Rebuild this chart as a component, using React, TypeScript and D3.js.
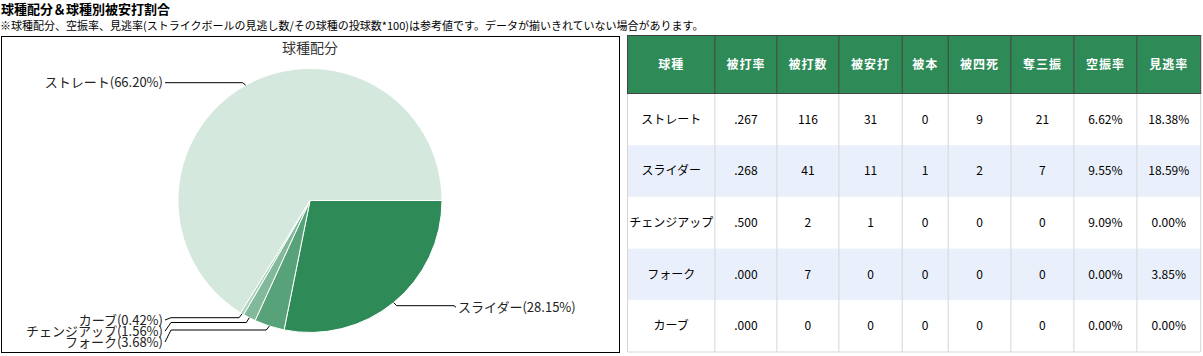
import React, { useEffect, useRef } from 'react';
import * as d3 from 'd3';

// pie data, clockwise from 3 o'clock
const PITCHES = ['スライダー', 'フォーク', 'チェンジアップ', 'カーブ', 'ストレート'];
const SHARES = [28.15, 3.68, 1.56, 0.42, 66.2];
const SLICE_COLORS = ['#2e8b57', '#58a279', '#82b99a', '#abd1bc', '#d5e8dd'];

// table
const HEADERS = ['球種', '被打率', '被打数', '被安打', '被本', '被四死', '奪三振', '空振率', '見逃率'];
const ROW_NAMES = ['ストレート', 'スライダー', 'チェンジアップ', 'フォーク', 'カーブ'];
const AVG = ['.267', '.268', '.500', '.000', '.000'];
const AT_BATS = [116, 41, 2, 7, 0];
const HITS = [31, 11, 1, 0, 0];
const HOMERS = [0, 1, 0, 0, 0];
const WALKS = [9, 2, 0, 0, 0];
const STRIKEOUTS = [21, 7, 0, 0, 0];
const WHIFF = ['6.62%', '9.55%', '9.09%', '0.00%', '0.00%'];
const LOOKING = ['18.38%', '18.59%', '0.00%', '3.85%', '0.00%'];

const COL_WIDTHS = [87.4, 62, 62, 63.3, 46, 62.7, 63, 63, 63.8];

// label placement (text y, connector y) after collision avoidance
const LABEL_LAYOUT: Record<string, [number, number]> = {
  'ストレート': [82.7, 82.7],
  'スライダー': [307.3, 305.7],
  'カーブ': [320, 317.7],
  'チェンジアップ': [331.2, 322.5],
  'フォーク': [342, 330],
};

const FONT = '"Noto Sans CJK JP", "Noto Sans", sans-serif';

const App = () => {
  const ref = useRef<SVGSVGElement>(null);

  useEffect(() => {
    if (!ref.current) return;
    const svg = d3.select(ref.current);
    svg.selectAll('*').remove();

    // headings
    svg.append('text')
      .attr('x', 1).attr('y', 14)
      .attr('font-family', FONT).attr('font-size', 13).attr('font-weight', 'bold')
      .attr('fill', '#000')
      .text('球種配分＆球種別被安打割合');
    svg.append('text')
      .attr('x', 0).attr('y', 30)
      .attr('font-family', FONT).attr('font-size', 11)
      .attr('fill', '#000')
      .text('※球種配分、空振率、見逃率(ストライクボールの見逃し数/その球種の投球数*100)は参考値です。データが揃いきれていない場合があります。');

    // pie panel
    svg.append('rect')
      .attr('x', 1.5).attr('y', 36.5).attr('width', 618).attr('height', 316)
      .attr('fill', '#fff').attr('stroke', '#000');

    svg.append('text')
      .attr('x', 310).attr('y', 53)
      .attr('text-anchor', 'middle')
      .attr('font-family', FONT).attr('font-size', 14).attr('fill', '#333')
      .text('球種配分');

    const cx = 310, cy = 200.5, r = 132;
    const data = PITCHES.map((name, i) => ({ name, value: SHARES[i], color: SLICE_COLORS[i] }));
    const pie = d3.pie<any>().sort(null).value(d => d.value)
      .startAngle(Math.PI / 2).endAngle(Math.PI / 2 + 2 * Math.PI);
    const arcs = pie(data);
    const arc = d3.arc<any>().innerRadius(0).outerRadius(r);

    const g = svg.append('g').attr('transform', `translate(${cx},${cy})`);
    g.selectAll('path.slice')
      .data(arcs)
      .enter()
      .append('path')
      .attr('class', 'slice')
      .attr('d', arc)
      .attr('fill', d => d.data.color)
      .attr('stroke', '#fff')
      .attr('stroke-width', 1);

    // labels + connectors
    arcs.forEach(a => {
      const mid = (a.startAngle + a.endAngle) / 2;
      const ax = cx + Math.sin(mid) * r;
      const ay = cy - Math.cos(mid) * r;
      const side = Math.sin(mid) >= 0 ? 1 : -1;
      const [textY, lineY] = LABEL_LAYOUT[a.data.name];
      const textX = side > 0 ? cx + r + 16 : cx - r - 15;
      const startX = textX - side * 2;
      const path = d3.path();
      path.moveTo(startX, textY);
      path.lineTo(side < 0 ? startX + 6 : startX - 2, lineY);
      path.lineTo(side < 0 ? ax - 3 : ax + 3, lineY);
      path.lineTo(ax, ay);
      svg.append('path')
        .attr('d', path.toString())
        .attr('fill', 'none')
        .attr('stroke', '#000')
        .attr('stroke-width', 1);
      svg.append('text')
        .attr('x', textX).attr('y', textY)
        .attr('dy', '0.35em')
        .attr('text-anchor', side > 0 ? 'start' : 'end')
        .attr('font-family', FONT).attr('font-size', 13).attr('fill', '#222')
        .text(`${a.data.name}(${a.data.value.toFixed(2)}%)`);
    });

    // table
    const tx0 = 627.5, ty0 = 35.5, headH = 58, rowH = 51.7;
    const colX = [tx0];
    COL_WIDTHS.forEach(w => colX.push(colX[colX.length - 1] + w));
    const rows = ROW_NAMES.map((n, i) => [
      n, AVG[i], String(AT_BATS[i]), String(HITS[i]), String(HOMERS[i]),
      String(WALKS[i]), String(STRIKEOUTS[i]), WHIFF[i], LOOKING[i],
    ]);
    const tableW = colX[colX.length - 1] - tx0;

    rows.forEach((row, ri) => {
      const y = ty0 + headH + ri * rowH;
      svg.append('rect')
        .attr('x', tx0).attr('y', y).attr('width', tableW).attr('height', rowH)
        .attr('fill', ri % 2 === 1 ? '#eaf0fb' : '#fff');
      row.forEach((cell, ci) => {
        svg.append('text')
          .attr('x', (colX[ci] + colX[ci + 1]) / 2)
          .attr('y', y + rowH / 2)
          .attr('dy', '0.35em')
          .attr('text-anchor', 'middle')
          .attr('font-family', FONT).attr('font-size', 12).attr('fill', '#000')
          .text(cell);
      });
    });
    const bodyTop = ty0 + headH, bodyBot = bodyTop + rows.length * rowH;
    colX.forEach(x => {
      svg.append('line')
        .attr('x1', x).attr('x2', x).attr('y1', bodyTop).attr('y2', bodyBot)
        .attr('stroke', '#d6d6d6');
    });
    svg.append('line')
      .attr('x1', tx0).attr('x2', tx0 + tableW).attr('y1', bodyBot).attr('y2', bodyBot)
      .attr('stroke', '#d6d6d6');

    // header
    svg.append('rect')
      .attr('x', tx0).attr('y', ty0).attr('width', tableW).attr('height', headH)
      .attr('fill', '#2e8b57').attr('stroke', '#444');
    colX.slice(1, -1).forEach(x => {
      svg.append('line')
        .attr('x1', x).attr('x2', x).attr('y1', ty0).attr('y2', ty0 + headH)
        .attr('stroke', '#444');
    });
    HEADERS.forEach((h, ci) => {
      svg.append('text')
        .attr('x', (colX[ci] + colX[ci + 1]) / 2)
        .attr('y', ty0 + headH / 2)
        .attr('dy', '0.35em')
        .attr('text-anchor', 'middle')
        .attr('font-family', FONT).attr('font-size', 12).attr('font-weight', 'bold')
        .attr('letter-spacing', 1)
        .attr('fill', '#fff')
        .text(h);
    });
  }, []);

  return (
    <svg ref={ref} width={1203} height={356}
      style={{ position: 'absolute', left: 0, top: 0, background: '#fff' }} />
  );
};

export default App;
